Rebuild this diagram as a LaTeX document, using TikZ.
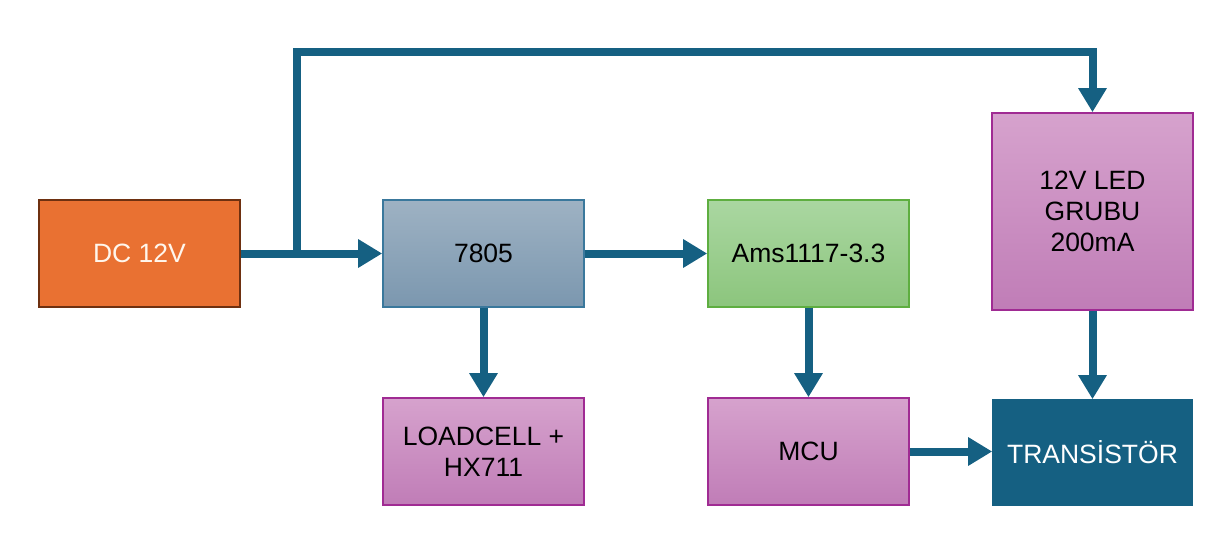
\documentclass[tikz,border=0pt]{standalone}
\usepackage{fontspec}
\setmainfont{Liberation Sans}
\usetikzlibrary{arrows.meta}
\definecolor{conn}{HTML}{156082}
\definecolor{orfill}{HTML}{E97132}
\definecolor{ordraw}{HTML}{6E3010}
\definecolor{bltop}{HTML}{9EB2C3}
\definecolor{blbot}{HTML}{7B97AF}
\definecolor{bldraw}{HTML}{3A789C}
\definecolor{grtop}{HTML}{AAD7A1}
\definecolor{grbot}{HTML}{8CC57D}
\definecolor{grdraw}{HTML}{5EAE40}
\definecolor{pktop}{HTML}{D6A2CD}
\definecolor{pkbot}{HTML}{C07DB7}
\definecolor{pkdraw}{HTML}{A02B93}
\definecolor{txtwhite}{HTML}{FFF6EC}
\tikzset{
  blk/.style={rectangle, inner sep=0pt, line width=1.6pt, minimum width=201pt,
    minimum height=107pt, align=center, font=\fontsize{26.5}{31}\selectfont},
  orblk/.style={blk, fill=orfill, draw=ordraw, text=txtwhite},
  blblk/.style={blk, top color=bltop, bottom color=blbot, draw=bldraw},
  grblk/.style={blk, top color=grtop, bottom color=grbot, draw=grdraw},
  pkblk/.style={blk, top color=pktop, bottom color=pkbot, draw=pkdraw},
  trblk/.style={blk, fill=conn, draw=conn, text=white, minimum width=199pt, minimum height=105pt},
  arr/.style={draw=conn, line width=8pt, -{Triangle[length=24pt,width=27pt]}},
}
\begin{document}
\begin{tikzpicture}[x=1pt,y=-1pt]
\useasboundingbox (0,0) rectangle (1224,533);
\node[orblk] (dc) at (139.5,253.5) {DC 12V};
\node[blblk] (v5) at (483.5,253.5) {7805};
\node[grblk] (ams) at (808.5,253.5) {Ams1117-3.3};
\node[pkblk, minimum height=197pt] (led) at (1092.5,211.5) {12V LED\\GRUBU\\200mA};
\node[pkblk] (lc) at (483.5,451.5) {LOADCELL +\\HX711};
\node[pkblk] (mcu) at (808.5,451.5) {MCU};
\node[trblk] (tr) at (1092.5,452.5) {TRANSİSTÖR};
\coordinate (br) at (297,253.5);
\coordinate (tl) at (297,52);
\draw[arr] (dc.east) -- (v5.west);
\draw[arr] (br) -- (tl) -| (led.north);
\draw[arr] (v5.east) -- (ams.west);
\draw[arr] (v5.south) -- (lc.north);
\draw[arr] (ams.south) -- (mcu.north);
\draw[arr] (led.south) -- (tr.north);
\draw[arr] (mcu.east) -- (mcu.east -| tr.west);
\end{tikzpicture}
\end{document}
